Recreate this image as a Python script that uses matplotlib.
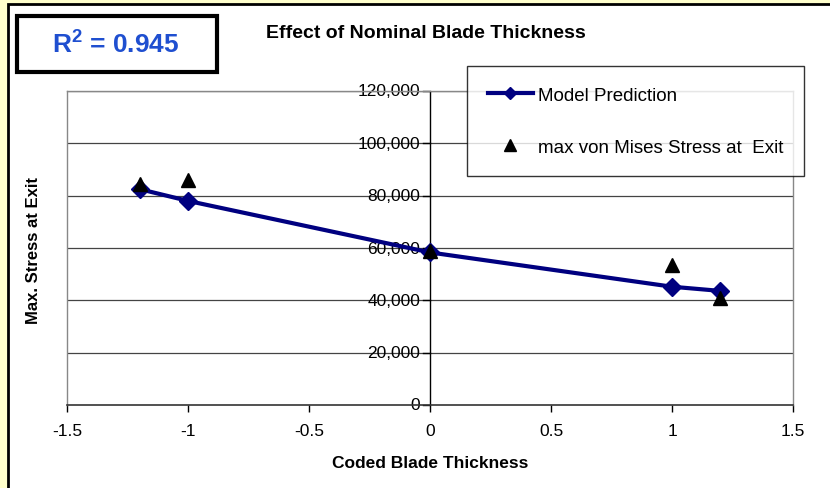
import matplotlib.pyplot as plt
from matplotlib.patches import Rectangle
from matplotlib.lines import Line2D

# ====== data ======
coded_thickness = [-1.2, -1.0, 0.0, 1.0, 1.2]
model_prediction = [82500, 78000, 58300, 45200, 43600]
fea_thickness = [-1.2, -1.0, 0.0, 1.0, 1.2]
fea_stress = [84500, 86000, 58800, 53500, 41000]
x_ticks = [-1.5, -1, -0.5, 0, 0.5, 1, 1.5]
x_tick_labels = ['-1.5', '-1', '-0.5', '0', '0.5', '1', '1.5']
y_ticks = [0, 20000, 40000, 60000, 80000, 100000, 120000]

W, H = 830, 489
plt.rcParams['font.family'] = ['Liberation Sans', 'DejaVu Sans']
plt.rcParams['mathtext.fontset'] = 'custom'
plt.rcParams['mathtext.rm'] = 'Liberation Sans'
plt.rcParams['mathtext.bf'] = 'Liberation Sans:bold'
fig = plt.figure(figsize=(W / 100, H / 100), dpi=100)
fig.patch.set_facecolor('#FFFFCC')

# white panel with black frame + R^2 box (background axes in pixel coords)
bg = fig.add_axes([0, 0, 1, 1], zorder=-10)
bg.set_xlim(0, W)
bg.set_ylim(H, 0)
bg.axis('off')
bg.add_patch(Rectangle((8, 5), W + 20, H + 20, facecolor='white', edgecolor='black', linewidth=2))
bg.add_patch(Rectangle((17, 17), 200, 56, facecolor='white', edgecolor='black', linewidth=3))
bg.text(116, 45, r'$\mathbf{R^2}$ = 0.945', ha='center', va='center', fontsize=19,
        fontweight='bold', color='#1F4FD0')

ax = fig.add_axes([67 / W, 1 - 406 / H, (793 - 67) / W, (406 - 92) / H])
ax.set_facecolor('white')
ax.set_xlim(-1.5, 1.5)
ax.set_ylim(0, 120000)

ax.plot(coded_thickness, model_prediction, color='#000080', linewidth=3, marker='D',
        markersize=9, zorder=3)
ax.plot(fea_thickness, fea_stress, linestyle='none', marker='^', color='black',
        markersize=10, zorder=4)

# gridlines and y axis through zero
for yt in y_ticks[1:]:
    ax.axhline(yt, color='#444444', linewidth=0.9, zorder=1)
ax.axvline(0, color='black', linewidth=1.0, zorder=1)

for side in ['left', 'top', 'right']:
    ax.spines[side].set_color('#888888')
    ax.spines[side].set_linewidth(1.0)
ax.spines['bottom'].set_color('#333333')
ax.spines['bottom'].set_linewidth(1.2)

ax.set_xticks(x_ticks)
ax.set_xticklabels(x_tick_labels)
ax.tick_params(axis='x', direction='out', length=5, width=1, pad=8, labelsize=12.5)
ax.set_yticks([])

# y tick labels at x = 0
for yt in y_ticks:
    ax.plot([-0.03, 0], [yt, yt], color='black', linewidth=1, zorder=2, clip_on=False)
    ax.text(-0.04, yt, f'{yt:,.0f}', ha='right', va='center', fontsize=12.5, zorder=2)

ax.set_xlabel('Coded Blade Thickness', fontsize=12.5, fontweight='bold', labelpad=12)
fig.text(34 / W, 1 - 250 / H, 'Max. Stress at Exit', rotation=90, ha='center', va='center',
         fontsize=12, fontweight='bold')
fig.text(426 / W, 1 - 33 / H, 'Effect of Nominal Blade Thickness', ha='center', va='center',
         fontsize=14, fontweight='bold')

handles = [Line2D([], [], color='#000080', linewidth=3, marker='D', markersize=6),
           Line2D([], [], linestyle='none', marker='^', color='black', markersize=8)]
labels = ['Model Prediction', 'max von Mises Stress at  Exit']
leg = ax.legend(handles, labels, loc='upper left',
                bbox_to_anchor=((467 - 67) / (793 - 67), (406 - 67) / (406 - 92)),
                frameon=True, fancybox=False, fontsize=13.5, borderpad=1.1, labelspacing=1.85,
                handlelength=2.4, handletextpad=0.3, borderaxespad=0)
leg.get_frame().set_edgecolor('black')
leg.get_frame().set_linewidth(1.0)
leg.set_zorder(5)

fig.savefig('out.png', dpi=100, facecolor=fig.get_facecolor())
